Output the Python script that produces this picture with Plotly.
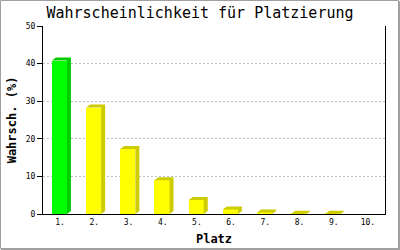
import plotly.graph_objects as go

# ---- data ----
places = ["1.", "2.", "3.", "4.", "5.", "6.", "7.", "8.", "9.", "10."]
probs = [40.8, 28.3, 17.3, 9.0, 3.7, 1.2, 0.4, 0.05, 0.05, 0.0]
highlight = [True] + [False] * 9

title_text = "Wahrscheinlichkeit für Platzierung"
x_title = "Platz"
y_title = "Wahrsch. (%)"

# ---- styles ----
FRONT = {True: "#00ff00", False: "#ffff00"}
SIDE = {True: "#00cc00", False: "#cccc00"}
MONO = "DejaVu Sans Mono"

W, H = 400, 250
ML, MR, MT, MB = 43, 15, 26, 36
pw, ph = W - ML - MR, H - MT - MB
yr = [0, 50]
bar_w = 0.44
bar_off = -0.24
dx = 4 / (pw / len(places))        # depth in x units
dy = 3 / (ph / (yr[1] - yr[0]))    # depth in y units

xs = list(range(len(places)))
fig = go.Figure()

# 3D side / top faces computed from values
for hl in (True, False):
    px, py = [], []
    for x, v, h in zip(xs, probs, highlight):
        if h != hl or v <= 0:
            continue
        x0 = x + bar_off
        x1 = x0 + bar_w
        px += [x0, x0 + dx, x1 + dx, x1 + dx, x1, x1, x0, None]
        py += [v, v + dy, v + dy, dy, 0, v, v, None]
    fig.add_trace(go.Scatter(x=px, y=py, mode="lines", fill="toself",
                             fillcolor=SIDE[hl], line=dict(width=0),
                             hoverinfo="skip", showlegend=False))

# front faces
fig.add_trace(go.Bar(x=xs, y=probs, width=bar_w, offset=bar_off,
                     marker=dict(color=[FRONT[h] for h in highlight], line=dict(width=0)),
                     showlegend=False))

fig.update_layout(
    width=W, height=H,
    margin=dict(l=ML, r=MR, t=MT, b=MB, pad=0, autoexpand=False),
    paper_bgcolor="white", plot_bgcolor="white",
    font=dict(family=MONO, color="black", size=8),
    title=dict(text=title_text, x=0.5, xref="container", xanchor="center",
               y=1 - 13 / H, yref="container", yanchor="middle",
               font=dict(family=MONO, size=15, color="black")),
    xaxis=dict(range=[-0.5, len(places) - 0.5], tickvals=xs, ticktext=places,
               automargin=False,
               showgrid=False, zeroline=False, showline=True, linecolor="black",
               linewidth=1, ticks="", tickfont=dict(size=8, family=MONO),
               title=dict(text="<b>" + x_title + "</b>", standoff=9,
                          font=dict(size=12, family=MONO))),
    yaxis=dict(range=yr, tickvals=[0, 10, 20, 30, 40, 50],
               automargin=False,
               showgrid=True, gridcolor="#c0c0c0", griddash="2px,2px", gridwidth=1,
               zeroline=False, showline=True, mirror=True, linecolor="black",
               linewidth=1, ticks="outside", ticklen=5, tickcolor="black",
               tickfont=dict(size=8, family=MONO),
               title=dict(text="<b>" + y_title + "</b>", standoff=6,
                          font=dict(size=12, family=MONO))),
    bargap=0,
)

# outer frame
def px2paper_x(p):
    return (p - ML) / pw

def px2paper_y(p):
    return (H - MB - p) / ph

fig.add_shape(type="rect", xref="paper", yref="paper",
              x0=px2paper_x(0.5), x1=px2paper_x(398.5),
              y0=px2paper_y(248.5), y1=px2paper_y(0.5),
              line=dict(color="#a0a0a0", width=1), layer="above")
fig.add_shape(type="line", xref="paper", yref="paper",
              x0=px2paper_x(399.5), x1=px2paper_x(399.5),
              y0=px2paper_y(250), y1=px2paper_y(1),
              line=dict(color="#a0a0a0", width=1))
fig.add_shape(type="line", xref="paper", yref="paper",
              x0=px2paper_x(1), x1=px2paper_x(400),
              y0=px2paper_y(249.5), y1=px2paper_y(249.5),
              line=dict(color="#a0a0a0", width=1))

fig.write_html("out.html")
